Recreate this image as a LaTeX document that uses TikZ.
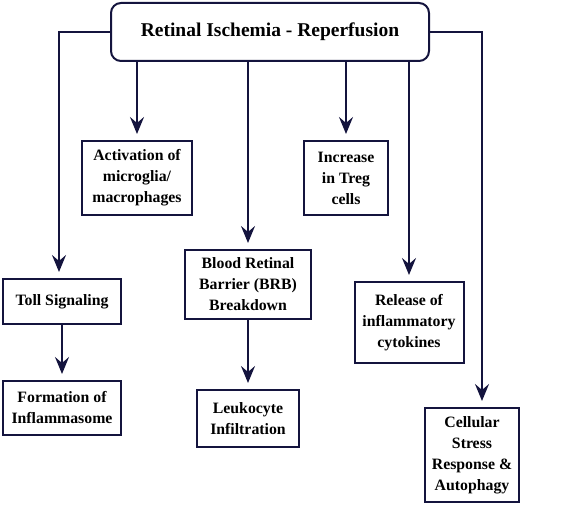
\documentclass[tikz,border=0pt]{standalone}
\usepackage{fontspec}
\setmainfont{Liberation Serif}
\usetikzlibrary{arrows.meta}
\definecolor{navy}{HTML}{14143E}
\begin{document}
\begin{tikzpicture}[x=1pt,y=-1pt,
  box/.style={draw=navy,line width=2pt,fill=white,inner sep=0pt,align=center,
    font=\fontsize{15.8}{21}\selectfont\bfseries,text=black},
  conn/.style={draw=navy,line width=2pt,shorten >=6pt,-{Stealth[length=17pt,width=14pt,inset=6pt]}}]
\useasboundingbox (0,0) rectangle (561,505);
\node[box,rounded corners=10pt,minimum width=318pt,minimum height=58pt,
  font=\fontsize{19.5}{24}\selectfont\bfseries] (top) at (270,32) {Retinal Ischemia - Reperfusion};
\node[box,minimum width=110pt,minimum height=74pt] (act) at (137,178) {Activation of\\microglia/\\macrophages};
\node[box,minimum width=84pt,minimum height=74pt] (treg) at (346,178) {Increase\\in Treg\\cells};
\node[box,minimum width=118pt,minimum height=45pt] (toll) at (62,301.5) {Toll Signaling};
\node[box,minimum width=118pt,minimum height=54pt] (form) at (62,408) {Formation of\\Inflammasome};
\node[box,minimum width=126pt,minimum height=69pt] (brb) at (248,284.5) {Blood Retinal\\Barrier (BRB)\\Breakdown};
\node[box,minimum width=102pt,minimum height=57pt] (leuk) at (248,418.5) {Leukocyte\\Infiltration};
\node[box,minimum width=109pt,minimum height=81pt] (rel) at (409,322.5) {Release of\\inflammatory\\cytokines};
\node[box,minimum width=94pt,minimum height=94pt] (cell) at (472,455) {Cellular\\Stress\\Response \&\\Autophagy};
\coordinate (lc) at (59,32);
\coordinate (rc) at (482,32);
\draw[conn] (top.west) -- (lc) -- (lc |- toll.north);
\draw[conn] (top.east) -- (rc) -- (rc |- cell.north);
\draw[conn] (act.north |- top.south) -- (act.north);
\draw[conn] (treg.north |- top.south) -- (treg.north);
\draw[conn] (brb.north |- top.south) -- (brb.north);
\draw[conn] (rel.north |- top.south) -- (rel.north);
\draw[conn] (toll.south) -- (form.north);
\draw[conn] (brb.south) -- (leuk.north);
\end{tikzpicture}
\end{document}
